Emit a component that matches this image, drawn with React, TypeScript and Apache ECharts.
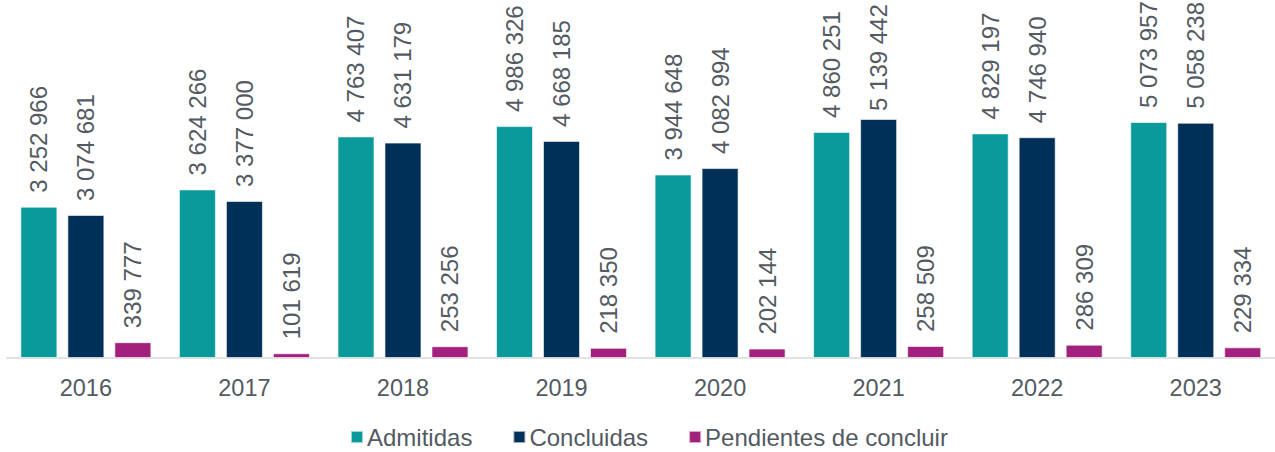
import React, { useEffect, useRef } from "react";
import * as echarts from "echarts";

const years = ["2016", "2017", "2018", "2019", "2020", "2021", "2022", "2023"];
const admitidas = [3252966, 3624266, 4763407, 4986326, 3944648, 4860251, 4829197, 5073957];
const concluidas = [3074681, 3377000, 4631179, 4668185, 4082994, 5139442, 4746940, 5058238];
const pendientes = [339777, 101619, 253256, 218350, 202144, 258509, 286309, 229334];
const seriesNames = ["Admitidas", "Concluidas", "Pendientes de concluir"];
const colors = ["#0A9A9B", "#003057", "#A2217C"];

const fmt = (v: number) => String(v).replace(/\B(?=(\d{3})+(?!\d))/g, " ");

export default function App() {
  const ref = useRef<HTMLDivElement>(null);
  useEffect(() => {
    const chart = echarts.init(ref.current!, null, { renderer: "svg" });
    const data = [admitidas, concluidas, pendientes];
    const textColor = "#535A62";
    chart.setOption({
      animation: false,
      textStyle: { fontFamily: "Liberation Sans, Arial, sans-serif" },
      grid: { left: 6.6, width: 1271, top: 8, bottom: 94, containLabel: false },
      legend: {
        left: 350,
        top: 425,
        padding: 0,
        itemWidth: 12,
        itemHeight: 12,
        itemGap: 40,
        icon: "rect",
        textStyle: { fontSize: 24, color: textColor, lineHeight: 24, padding: [0, 0, 0, -1] },
        data: seriesNames,
      },
      xAxis: {
        type: "category",
        data: years,
        axisLine: { lineStyle: { color: "#D9D9D9", width: 1.5 } },
        axisTick: { show: false },
        axisLabel: { fontSize: 23.5, color: textColor, margin: 18 },
      },
      yAxis: {
        type: "value",
        min: 0,
        max: 7525000,
        show: false,
        splitLine: { show: false },
      },
      series: data.map((d, i) => ({
        name: seriesNames[i],
        type: "bar",
        data: d.map((v) =>
          v > 5100000 ? { value: v, label: { distance: 8 } } : v
        ),
        barWidth: 37,
        barGap: "27%",
        itemStyle: { color: colors[i], borderColor: "rgba(255,255,255,0.6)", borderWidth: 1 },
        label: {
          show: true,
          position: "top",
          rotate: 90,
          align: "left",
          verticalAlign: "middle",
          distance: 14,
          fontSize: 24,
          color: textColor,
          formatter: (p: any) => fmt(p.value),
        },
      })),
    });
    return () => chart.dispose();
  }, []);
  return (
    <div
      ref={ref}
      style={{ position: "absolute", left: 0, top: 0, width: 1275, height: 452 }}
    />
  );
}
